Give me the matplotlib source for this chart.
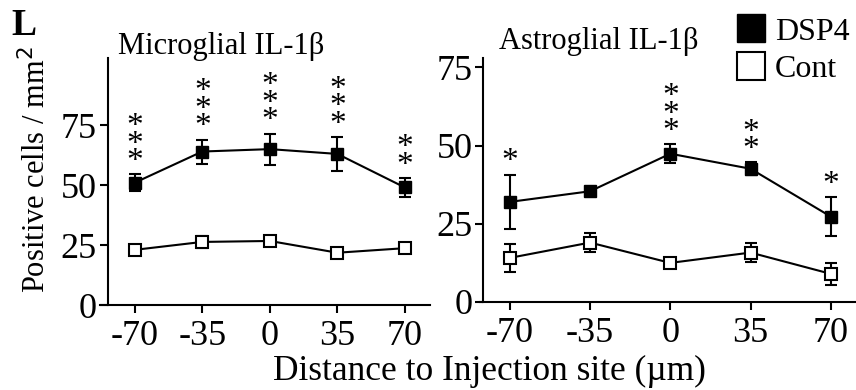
import matplotlib
matplotlib.use("Agg")
import matplotlib.pyplot as plt
from matplotlib.lines import Line2D

plt.rcParams["font.family"] = ["Liberation Serif", "DejaVu Serif"]

# data
distance = [-70, -35, 0, 35, 70]
tick_labels = ["-70", "-35", "0", "35", "70"]

micro_dsp4 = [51, 64, 65, 63, 49]
micro_dsp4_err = [3.5, 5, 6.5, 7, 4]
micro_cont = [23, 26.3, 26.7, 21.8, 23.7]
micro_cont_err = [1.5, 2.5, 1.5, 1.2, 1.2]
micro_stars = [3, 3, 3, 3, 2]

astro_dsp4 = [32, 35.4, 47.4, 42.6, 27.3]
astro_dsp4_err = [8.7, 1.5, 3, 2, 6.3]
astro_cont = [14.1, 19, 12.5, 15.8, 9]
astro_cont_err = [4.5, 3, 1.5, 3, 3.5]
astro_stars = [1, 0, 3, 2, 1]

fig = plt.figure(figsize=(8.56, 3.9), dpi=100)

ax1 = fig.add_axes([100 / 856, 1 - 305 / 390, 330 / 856, 247 / 390])
ax2 = fig.add_axes([480 / 856, 1 - 302 / 390, 376 / 856, 244 / 390])


def draw_panel(ax, dsp4, dsp4_err, cont, cont_err, stars, ylim, yticks):
    ax.errorbar(distance, cont, yerr=cont_err, color="black", lw=1.5,
                marker="s", markersize=8, markerfacecolor="white",
                markeredgecolor="black", markeredgewidth=1.5,
                capsize=4.5, elinewidth=1.5, capthick=1.5)
    ax.errorbar(distance, dsp4, yerr=dsp4_err, color="black", lw=1.5,
                marker="s", markersize=8, markerfacecolor="black",
                capsize=4.5, elinewidth=1.5, capthick=1.5)
    # significance stars above the error bars, one stacked text each
    for x, y, e, n in zip(distance, dsp4, dsp4_err, stars):
        if n == 0:
            continue
        ax.annotate("\n".join(["*"] * n), (x, y + e), xytext=(0, -2),
                    textcoords="offset points", ha="center", va="bottom",
                    fontsize=24, linespacing=0.45)
    ax.set_ylim(*ylim)
    ax.set_yticks(yticks)
    ax.set_xticks(distance)
    ax.set_xticklabels(tick_labels)
    ax.spines["top"].set_visible(False)
    ax.spines["right"].set_visible(False)
    ax.spines["left"].set_linewidth(1.5)
    ax.spines["bottom"].set_linewidth(1.5)
    ax.tick_params(direction="out", length=6, width=1.5, labelsize=26)
    ax.tick_params(axis="x", pad=5)
    ax.tick_params(axis="y", pad=2)


draw_panel(ax1, micro_dsp4, micro_dsp4_err, micro_cont, micro_cont_err,
           micro_stars, (0, 103), [0, 25, 50, 75])
ax1.set_xlim(-88, 83)
ax1.spines["left"].set_position(("data", -84))
ax1.set_title("Microglial IL-1β", fontsize=22, loc="left", x=0.055, y=1.0,
              pad=3)

draw_panel(ax2, astro_dsp4, astro_dsp4_err, astro_cont, astro_cont_err,
           astro_stars, (0, 78), [0, 25, 50, 75])
ax2.set_xlim(-83, 81)
ax2.spines["left"].set_position(("data", -81.5))
ax2.set_title("Astroglial IL-1β", fontsize=22, loc="left", x=0.05, y=1.02,
              pad=3)

fig.text(0.042, 0.564, "Positive cells / mm$^2$", rotation=90, ha="center",
         va="center", fontsize=22)
fig.text(0.572, 0.047, "Distance to Injection site (µm)", ha="center",
         va="center", fontsize=25.5)
fig.text(0.013, 0.935, "L", fontsize=27, fontweight="bold", ha="left",
         va="center")

handles = [
    Line2D([], [], ls="none", marker="s", markersize=20,
           markerfacecolor="black", markeredgecolor="black"),
    Line2D([], [], ls="none", marker="s", markersize=20,
           markerfacecolor="white", markeredgecolor="black",
           markeredgewidth=1.5),
]
fig.legend(handles, ["DSP4", "Cont"], loc="upper right",
           bbox_to_anchor=(1.015, 1.005), frameon=False, fontsize=23,
           handlelength=0.9, handletextpad=0.3, labelspacing=0.25,
           borderaxespad=0.2)

fig.savefig("out.png", dpi=100)
